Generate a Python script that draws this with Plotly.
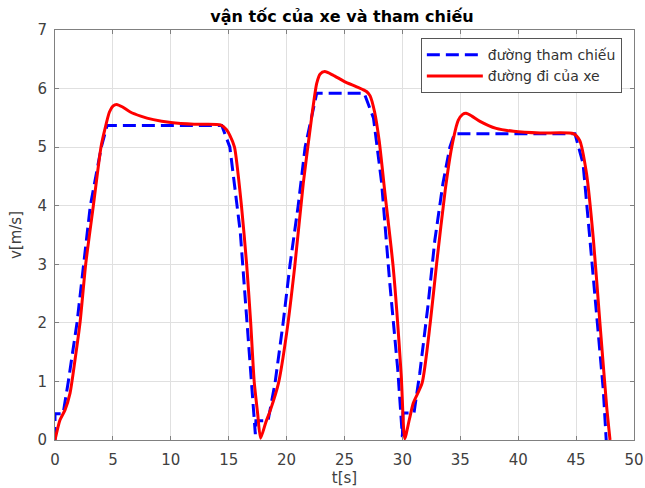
import plotly.graph_objects as go

# reference speed (blue dashed)
t_ref = [0, 0, 0.7, 1.15, 1.9, 2.45, 3.05, 4.0, 4.5, 14.4, 15.1, 16.0, 16.55, 17.0, 17.3,
         17.35, 18.4, 19.0, 19.7, 20.3, 21.0, 21.6, 22.6, 26.7, 27.5, 28.2, 28.9, 29.6, 30.0,
         30.05, 31.0, 31.5, 32.2, 32.8, 33.5, 34.1, 34.5, 44.9, 45.6, 46.2, 46.8, 47.35, 47.6]
v_ref = [0, 0.45, 0.45, 1.0, 2.0, 3.0, 4.0, 5.0, 5.37, 5.37, 5.0, 3.55, 2.1, 0.97, 0.1,
         0.33, 0.33, 0.97, 2.0, 3.0, 4.0, 5.0, 5.92, 5.92, 5.5, 4.4, 2.7, 1.2, 0.05,
         0.46, 0.46, 1.14, 2.28, 3.41, 4.38, 5.0, 5.23, 5.23, 4.72, 3.41, 2.0, 0.85, 0.0]

# vehicle speed (red solid)
t_car = [0, 0.43, 0.86, 1.3, 1.73, 2.16, 2.65, 3.31, 3.97, 4.3, 4.7, 5.0, 5.33, 5.8, 6.5,
         7.4, 8.5, 10.0, 12.0, 14.3, 14.8, 15.1, 15.5, 16.1, 16.55, 16.9, 17.2, 17.5, 17.75,
         18.2, 18.6, 19.3, 20.0, 20.7, 21.44, 22.17, 22.6, 22.9, 23.3, 24.0, 25.0, 26.05,
         26.9, 27.2, 27.6, 28.0, 28.5, 29.2, 29.9, 30.2, 30.6, 30.94, 31.7, 32.4, 32.96,
         33.7, 34.26, 34.83, 35.2, 35.5, 36.0, 36.7, 38.1, 39.6, 41.9, 44.76, 45.3, 45.9,
         46.5, 47.06, 47.64, 47.93]
v_car = [0, 0.34, 0.51, 0.8, 1.37, 2.0, 3.0, 4.0, 5.0, 5.3, 5.6, 5.7, 5.73, 5.69, 5.6,
         5.53, 5.47, 5.42, 5.39, 5.38, 5.3, 5.2, 5.0, 4.0, 3.0, 2.0, 1.0, 0.45, 0.03,
         0.3, 0.51, 0.97, 1.82, 2.96, 4.38, 5.52, 6.09, 6.25, 6.29, 6.23, 6.12, 6.03,
         5.95, 5.88, 5.6, 5.1, 4.2, 2.96, 1.1, 0.02, 0.35, 0.63, 0.97, 1.99, 3.02,
         4.27, 5.0, 5.46, 5.56, 5.58, 5.53, 5.44, 5.32, 5.27, 5.24, 5.23, 5.12, 4.55,
         3.41, 1.99, 0.57, 0.0]

x_ticks = [0, 5, 10, 15, 20, 25, 30, 35, 40, 45, 50]
y_ticks = [0, 1, 2, 3, 4, 5, 6, 7]

FONT = "DejaVu Sans, Arial, sans-serif"

fig = go.Figure()
fig.add_trace(go.Scatter(x=t_ref, y=v_ref, mode="lines", name="đường tham chiếu",
                         line=dict(color="#0000ff", width=3, dash="13px,6px")))
fig.add_trace(go.Scatter(x=t_car, y=v_car, mode="lines", name="đường đi của xe",
                         line=dict(color="#ff0000", width=3, shape="spline", smoothing=0.6)))

axis_common = dict(showgrid=True, gridcolor="#e0e0e0", gridwidth=1, zeroline=False,
                   showline=True, linecolor="#808080", linewidth=1, mirror="allticks",
                   ticks="inside", ticklen=4, tickcolor="#808080", automargin=False,
                   tickfont=dict(family=FONT, size=15, color="#404040"))

fig.update_layout(
    width=645, height=488,
    margin=dict(l=55, r=11, t=30, b=48, autoexpand=False),
    paper_bgcolor="white", plot_bgcolor="white",
    title=dict(text="<b>vận tốc của xe và tham chiếu</b>", x=342 / 645,
               xanchor="center", y=1 - 16 / 488, yanchor="middle",
               font=dict(family=FONT, size=16, color="black")),
    xaxis=dict(range=[0, 50], tickvals=x_ticks, ticklabelstandoff=6,
               title=dict(text="t[s]", standoff=4,
                          font=dict(family=FONT, size=15, color="#404040")), **axis_common),
    yaxis=dict(range=[0, 7], tickvals=y_ticks, ticklabelstandoff=4,
               title=dict(text="v[m/s]", standoff=12,
                          font=dict(family=FONT, size=15, color="#404040")), **axis_common),
    legend=dict(x=0.979, y=0.98, xanchor="right", yanchor="top",
                bgcolor="white", bordercolor="#555555", borderwidth=1,
                font=dict(family=FONT, size=14, color="#333333"),
                itemwidth=56, tracegroupgap=0),
    showlegend=True,
)

fig.write_html("out.html", config={"displayModeBar": False},
               post_script="document.body.style.margin='0px';")
